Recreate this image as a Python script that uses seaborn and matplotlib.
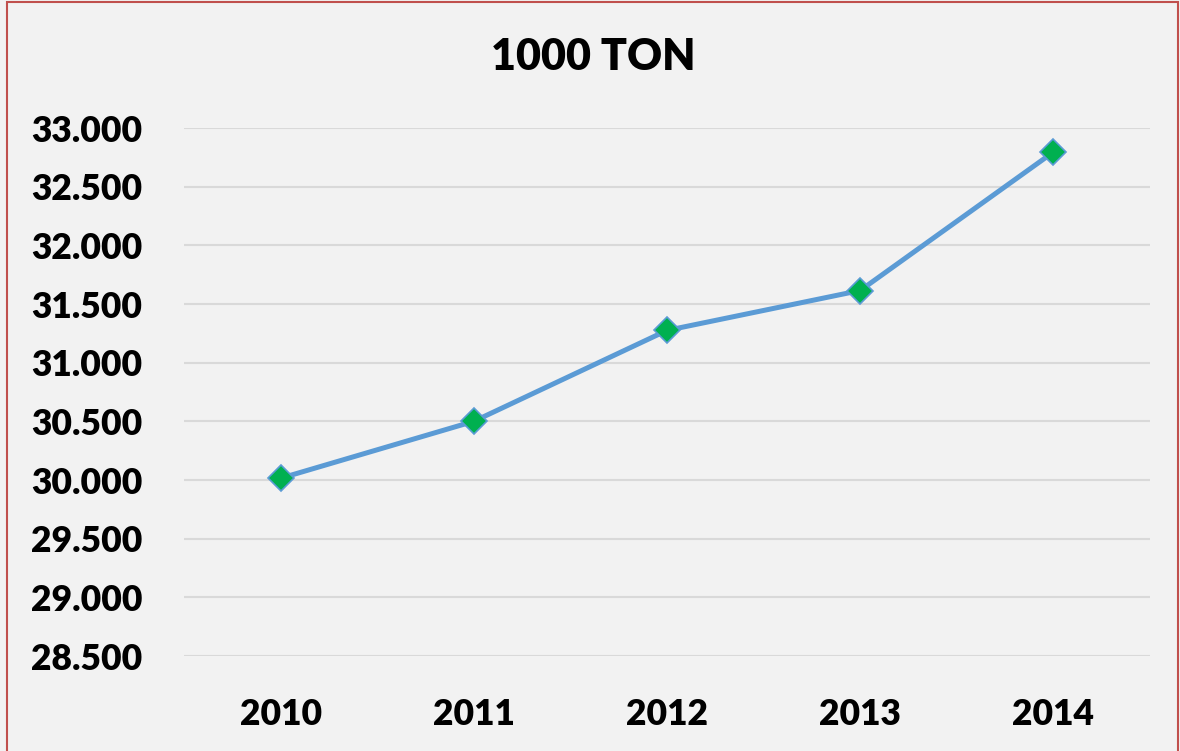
import matplotlib
matplotlib.use("Agg")
import matplotlib.pyplot as plt
from matplotlib.patches import Rectangle
from matplotlib.ticker import FuncFormatter
import seaborn as sns
import pandas as pd

years = ["2010", "2011", "2012", "2013", "2014"]
tons = [30015, 30500, 31275, 31615, 32795]
yticks = [28500, 29000, 29500, 30000, 30500, 31000, 31500, 32000, 32500, 33000]

sns.set_theme(style="white")
plt.rcParams['font.family'] = ['Lato', 'DejaVu Sans']

df = pd.DataFrame({'year': years, 'ton': tons})

fig = plt.figure(figsize=(11.8, 7.51), dpi=100, facecolor='#f2f2f2')
ax = fig.add_axes([184/1180, 1 - 656/751, 966/1180, 528/751])
ax.set_facecolor('#f2f2f2')

sns.lineplot(data=df, x='year', y='ton', ax=ax, color='#5b9bd5', linewidth=3.6,
             marker='D', markersize=13, markerfacecolor='#00b050',
             markeredgecolor='#5b9bd5', markeredgewidth=1.2)

ax.set_xlim(-0.5, 4.5)
ax.set_ylim(28500, 33000)
ax.set_yticks(yticks)
ax.yaxis.set_major_formatter(FuncFormatter(lambda v, p: f"{int(v):,}".replace(",", ".")))
ax.grid(axis='y', color='#d9d9d9', linewidth=1.5)
ax.set_axisbelow(True)
for s in ax.spines.values():
    s.set_visible(False)
ax.tick_params(axis='both', length=0, labelsize=25.5, labelcolor='black')
ax.tick_params(axis='y', pad=30)
ax.tick_params(axis='x', pad=30)
for lab in ax.get_xticklabels() + ax.get_yticklabels():
    lab.set_fontweight('heavy')
ax.set_xlabel('')
ax.set_ylabel('')

fig.text(593/1180, 1 - 57/751, '1000 TON', ha='center', va='center',
         fontsize=31, fontweight='heavy', color='black')

fig.add_artist(Rectangle((7/1180, -0.05), 1172/1180 - 0.001, 1 - 2/751 + 0.05,
                         transform=fig.transFigure, fill=False,
                         edgecolor='#c0504d', linewidth=1.5, clip_on=False))

fig.savefig('out.png', dpi=100, facecolor=fig.get_facecolor())
